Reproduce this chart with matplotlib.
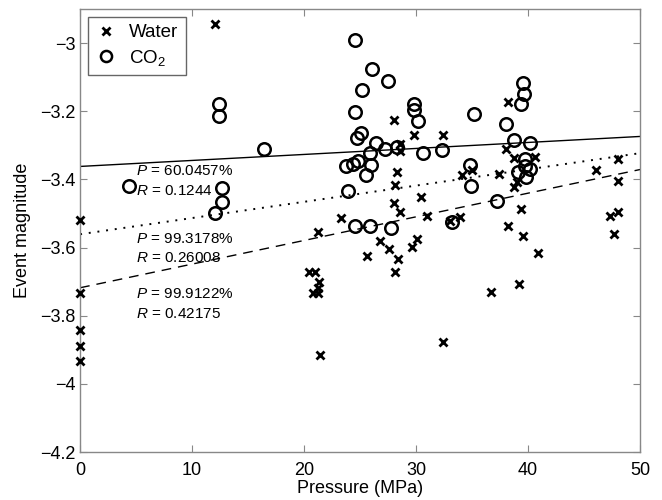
import matplotlib
matplotlib.use('Agg')
from matplotlib import pyplot as plt
from matplotlib.lines import Line2D

plt.rcParams['font.family'] = ['Liberation Sans', 'DejaVu Sans']
plt.rcParams['mathtext.fontset'] = 'custom'
plt.rcParams['mathtext.rm'] = 'Liberation Sans'
plt.rcParams['mathtext.it'] = 'Liberation Sans:italic'

# water injection events (pressure MPa, magnitude)
water_p = [0, 0, 0, 0, 0, 12.05,
           20.4, 21.0, 21.2, 21.3, 21.2, 20.8, 21.2, 21.4, 23.3, 25.65,
           26.8, 27.6, 28.4, 28.1, 28.0, 29.85, 28.6, 28.6, 28.3, 28.1, 28.0, 28.6,
           29.6, 30.1, 30.4, 30.95, 32.4, 32.4, 33.0, 33.9, 34.1, 35.0, 36.7, 37.4,
           38.2, 38.0, 38.7, 38.7, 39.0, 39.35, 38.2, 39.5, 39.2, 40.6, 40.9,
           46.1, 48.0, 48.0, 47.3, 48.0, 47.7]
water_m = [-3.518, -3.734, -3.843, -3.889, -3.933, -2.945,
           -3.671, -3.671, -3.553, -3.701, -3.719, -3.732, -3.732, -3.916, -3.512, -3.626,
           -3.58, -3.605, -3.634, -3.671, -3.225, -3.269, -3.296, -3.318, -3.379, -3.416, -3.468, -3.497,
           -3.598, -3.575, -3.453, -3.507, -3.271, -3.878, -3.521, -3.509, -3.386, -3.371, -3.73, -3.384,
           -3.173, -3.31, -3.337, -3.421, -3.409, -3.487, -3.536, -3.566, -3.707, -3.335, -3.615,
           -3.372, -3.34, -3.404, -3.507, -3.495, -3.561]

# CO2 injection events
co2_p = [4.4, 12.05, 12.65, 12.7, 12.4, 12.4, 16.4, 23.7, 23.9, 24.4, 24.8,
         24.5, 24.5, 24.7, 25.1, 25.2, 25.5, 25.9, 25.95, 26.1, 26.4, 27.2, 27.5,
         28.3, 29.8, 29.8, 30.2, 30.6, 24.5, 25.9, 27.8, 32.3, 33.2, 34.8, 34.9,
         35.2, 37.2, 38.0, 38.7, 39.1, 39.35, 39.5, 39.6, 39.7, 39.7, 39.8, 40.2, 40.2]
co2_m = [-3.419, -3.499, -3.465, -3.426, -3.178, -3.213, -3.312, -3.36, -3.433, -3.355, -3.347,
         -2.99, -3.201, -3.278, -3.265, -3.137, -3.388, -3.324, -3.357, -3.076, -3.294, -3.31, -3.11,
         -3.304, -3.18, -3.196, -3.229, -3.324, -3.536, -3.538, -3.543, -3.313, -3.524, -3.358, -3.419,
         -3.208, -3.463, -3.237, -3.283, -3.379, -3.18, -3.118, -3.149, -3.34, -3.36, -3.394, -3.293, -3.37]

# fitted lines: (magnitude at 0 MPa, magnitude at 50 MPa)
fit_x = [0, 50]
fit_solid = [-3.362, -3.274]
fit_dotted = [-3.561, -3.323]
fit_dashed = [-3.718, -3.371]

stats = [(-3.376, r'$P$ = 60.0457%'), (-3.435, r'$R$ = 0.1244'),
         (-3.575, r'$P$ = 99.3178%'), (-3.631, r'$R$ = 0.26008'),
         (-3.735, r'$P$ = 99.9122%'), (-3.794, r'$R$ = 0.42175')]

fig = plt.figure(figsize=(6.62, 5.0), dpi=100)
ax = fig.add_axes([0.121, 0.096, 0.846, 0.886])

ax.plot(water_p, water_m, 'x', color='black', markersize=5.5, markeredgewidth=2.0,
        linestyle='none', clip_on=False, zorder=3)
ax.plot(co2_p, co2_m, 'o', markerfacecolor='none', markeredgecolor='black',
        markersize=9, markeredgewidth=1.8, linestyle='none', zorder=3)

ax.plot(fit_x, fit_solid, '-', color='black', linewidth=1.0)
ax.plot(fit_x, fit_dotted, color='black', linewidth=1.4, linestyle=(0, (1, 3.5)))
ax.plot(fit_x, fit_dashed, color='black', linewidth=1.0, linestyle=(0, (7, 5)))

for y, s in stats:
    ax.text(5.0, y, s, fontsize=11, va='center', ha='left')

ax.set_xlim(0, 50)
ax.set_ylim(-4.2, -2.9)
ax.set_xticks([0, 10, 20, 30, 40, 50])
ax.set_yticks([-4.2, -4, -3.8, -3.6, -3.4, -3.2, -3])
ax.set_yticklabels(['\u22124.2', '\u22124', '\u22123.8', '\u22123.6', '\u22123.4', '\u22123.2', '\u22123'])
ax.tick_params(direction='in', length=5, color='#888888', labelsize=13,
               top=True, right=True)
ax.tick_params(axis='x', pad=7)
ax.tick_params(axis='y', pad=3)
for sp in ax.spines.values():
    sp.set_color('#888888')
    sp.set_linewidth(1.0)

ax.set_xlabel('Pressure (MPa)', fontsize=13, labelpad=1)
ax.set_ylabel('Event magnitude', fontsize=13, labelpad=7)

handles = [Line2D([], [], marker='x', color='black', linestyle='none', markersize=5.5,
                  markeredgewidth=2.0),
           Line2D([], [], marker='o', markerfacecolor='none', markeredgecolor='black',
                  linestyle='none', markersize=8, markeredgewidth=1.8)]
leg = ax.legend(handles, ['Water', 'CO$_2$'], loc='upper left', fontsize=13.5,
                fancybox=False, framealpha=1, edgecolor='#666666', handlelength=1.2,
                handletextpad=0.6, borderaxespad=0.4, labelspacing=0.35,
                bbox_to_anchor=(0.0, 1.0))
leg.get_frame().set_linewidth(1.0)

fig.savefig('out.png', dpi=100)
